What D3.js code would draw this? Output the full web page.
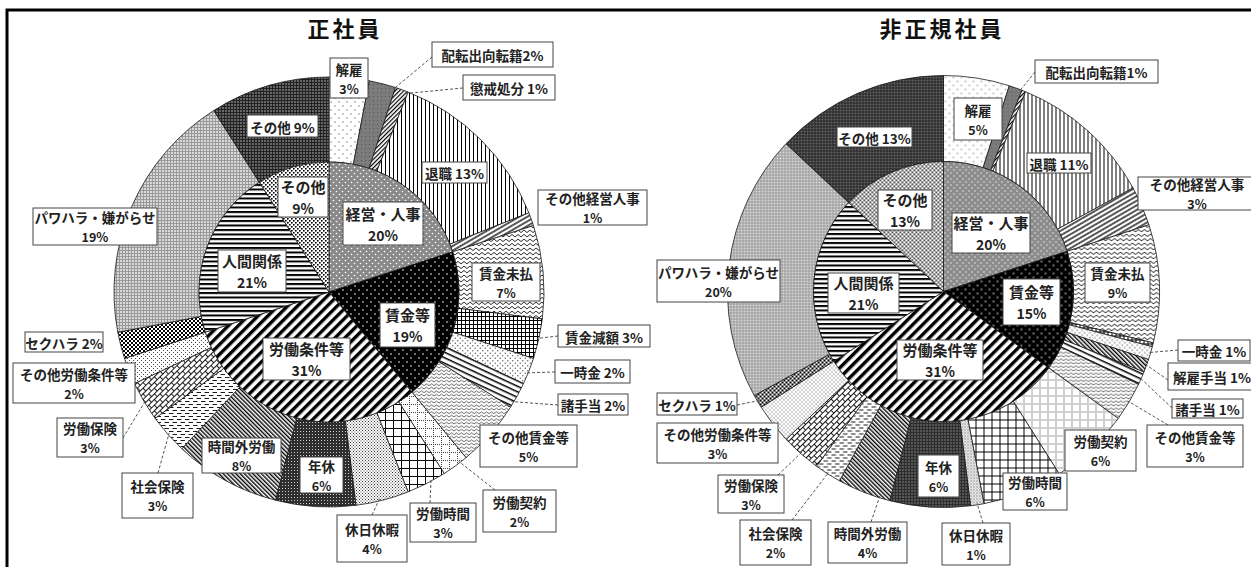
<!DOCTYPE html>
<html>
<head>
<meta charset="utf-8">
<script src="https://cdn.jsdelivr.net/npm/d3@7"></script>
<style>
  body { margin: 0; background: #fff; }
  text { font-family: "Noto Sans CJK JP", "Noto Sans", sans-serif; }
</style>
</head>
<body>
<svg id="chart" width="1251" height="567"></svg>
<script>
// ---- data -------------------------------------------------------------
const categories = ["経営・人事", "賃金等", "労働条件等", "人間関係", "その他"];

// 正社員
const regularTitle = "正社員";
const regularMain = [20, 19, 31, 21, 9];
const regularSubNames = ["解雇", "配転出向転籍", "懲戒処分", "退職", "その他経営人事",
  "賃金未払", "賃金減額", "一時金", "諸手当", "その他賃金等",
  "労働契約", "労働時間", "休日休暇", "年休", "時間外労働", "社会保険", "労働保険", "その他労働条件等",
  "セクハラ", "パワハラ・嫌がらせ", "その他"];
const regularSubGroups = [0, 0, 0, 0, 0, 1, 1, 1, 1, 1, 2, 2, 2, 2, 2, 2, 2, 2, 3, 3, 4];
const regularSubValues = [3, 2, 1, 13, 1, 7, 3, 2, 2, 5, 2, 3, 4, 6, 8, 3, 3, 2, 2, 19, 9];

// 非正規社員
const nonRegularTitle = "非正規社員";
const nonRegularMain = [20, 15, 31, 21, 13];
const nonRegularSubNames = ["解雇", "配転出向転籍", "懲戒処分", "退職", "その他経営人事",
  "賃金未払", "賃金減額", "一時金", "解雇手当", "諸手当", "その他賃金等",
  "労働契約", "労働時間", "休日休暇", "年休", "時間外労働", "社会保険", "労働保険", "その他労働条件等",
  "セクハラ", "パワハラ・嫌がらせ", "その他"];
const nonRegularSubGroups = [0, 0, 0, 0, 0, 1, 1, 1, 1, 1, 1, 2, 2, 2, 2, 2, 2, 2, 2, 3, 3, 4];
const nonRegularSubValues = [5, 1, 0.3, 11, 3, 9, 0.3, 1, 1, 1, 3, 6, 6, 1, 6, 4, 2, 3, 3, 1, 20, 13];

// ---- label layout (box x, y, w, h, number of lines, optional leader) ----
const regularLabels = [
  { ring: "out", name: "その他", box: [247, 115, 71, 22], lines: 1 },
  { ring: "in", name: "その他", box: [278, 177, 50, 40], lines: 2 },
  { ring: "out", name: "パワハラ・嫌がらせ", box: [33, 208, 124, 37], lines: 2 },
  { ring: "in", name: "人間関係", box: [218, 250, 68, 42], lines: 2 },
  { ring: "out", name: "解雇", box: [330, 58, 38, 40], lines: 2 },
  { ring: "out", name: "配転出向転籍", box: [432, 42, 121, 25], lines: 1, sep: "", leader: [432, 57, 0.95] },
  { ring: "out", name: "懲戒処分", box: [463, 75, 92, 25], lines: 1, leader: [463, 88, 0.9] },
  { ring: "out", name: "退職", box: [422, 162, 65, 21], lines: 1 },
  { ring: "out", name: "その他経営人事", box: [538, 190, 109, 35], lines: 2 },
  { ring: "in", name: "経営・人事", box: [343, 202, 80, 43], lines: 2 },
  { ring: "out", name: "賃金未払", box: [472, 263, 68, 38], lines: 2 },
  { ring: "in", name: "賃金等", box: [380, 303, 55, 44], lines: 2 },
  { ring: "out", name: "賃金減額", box: [558, 325, 92, 22], lines: 1, leader: [558, 336, 0.5] },
  { ring: "out", name: "一時金", box: [555, 360, 75, 23], lines: 1, leader: [555, 372, 0.6] },
  { ring: "out", name: "諸手当", box: [558, 394, 70, 21], lines: 1, leader: [558, 405, 0.8] },
  { ring: "out", name: "その他賃金等", box: [480, 425, 97, 42], lines: 2 },
  { ring: "out", name: "労働契約", box: [483, 490, 73, 42], lines: 2, leader: [495, 490, 0.3] },
  { ring: "out", name: "労働時間", box: [410, 503, 66, 39], lines: 2, leader: [430, 503, 0.35] },
  { ring: "out", name: "休日休暇", box: [337, 515, 70, 47], lines: 2, leader: [372, 515, 0.55] },
  { ring: "out", name: "年休", box: [300, 457, 43, 36], lines: 2 },
  { ring: "out", name: "時間外労働", box: [202, 438, 79, 35], lines: 2 },
  { ring: "in", name: "労働条件等", box: [263, 338, 87, 42], lines: 2 },
  { ring: "out", name: "社会保険", box: [122, 473, 71, 45], lines: 2, leader: [158, 473, 0.5] },
  { ring: "out", name: "労働保険", box: [57, 418, 66, 39], lines: 2, leader: [123, 438, 0.5] },
  { ring: "out", name: "その他労働条件等", box: [13, 363, 122, 40], lines: 2 },
  { ring: "out", name: "セクハラ", box: [25, 332, 78, 20], lines: 1 }
];

const nonRegularLabels = [
  { ring: "out", name: "その他", box: [837, 127, 75, 20], lines: 1 },
  { ring: "in", name: "その他", box: [878, 190, 54, 40], lines: 2 },
  { ring: "out", name: "パワハラ・嫌がらせ", box: [657, 260, 123, 42], lines: 2 },
  { ring: "in", name: "人間関係", box: [828, 273, 71, 40], lines: 2 },
  { ring: "out", name: "解雇", box: [954, 98, 48, 42], lines: 2 },
  { ring: "out", name: "配転出向転籍", box: [1035, 60, 123, 23], lines: 1, sep: "", leader: [1035, 72, 0.85] },
  { ring: "out", name: "退職", box: [1027, 153, 64, 20], lines: 1 },
  { ring: "out", name: "その他経営人事", box: [1138, 177, 118, 33], lines: 2 },
  { ring: "in", name: "経営・人事", box: [952, 213, 78, 40], lines: 2 },
  { ring: "out", name: "賃金未払", box: [1085, 263, 65, 39], lines: 2 },
  { ring: "in", name: "賃金等", box: [1003, 279, 57, 46], lines: 2 },
  { ring: "out", name: "一時金", box: [1178, 340, 72, 21], lines: 1, leader: [1178, 350, 0.5] },
  { ring: "out", name: "解雇手当", box: [1168, 363, 88, 27], lines: 1, leader: [1168, 380, 0.4] },
  { ring: "out", name: "諸手当", box: [1172, 399, 71, 19], lines: 1, leader: [1172, 408, 0.5] },
  { ring: "out", name: "その他賃金等", box: [1147, 425, 96, 42], lines: 2, leader: [1168, 425, 0.5] },
  { ring: "out", name: "労働契約", box: [1065, 430, 71, 41], lines: 2 },
  { ring: "out", name: "労働時間", box: [1003, 473, 64, 37], lines: 2 },
  { ring: "out", name: "休日休暇", box: [942, 523, 68, 42], lines: 2, leader: [983, 523, 0.5] },
  { ring: "out", name: "年休", box: [918, 455, 41, 42], lines: 2 },
  { ring: "out", name: "時間外労働", box: [828, 522, 79, 41], lines: 2, leader: [871, 522, 0.2] },
  { ring: "out", name: "社会保険", box: [740, 520, 71, 45], lines: 2, leader: [792, 520, 0.5] },
  { ring: "out", name: "労働保険", box: [718, 475, 66, 38], lines: 2, leader: [778, 475, 0.5] },
  { ring: "out", name: "その他労働条件等", box: [657, 423, 121, 40], lines: 2 },
  { ring: "out", name: "セクハラ", box: [657, 393, 80, 22], lines: 1, leader: [737, 405, 0.5] },
  { ring: "in", name: "労働条件等", box: [897, 340, 86, 40], lines: 2 }
];

// ---- drawing ------------------------------------------------------------
const svg = d3.select("#chart");
const defs = svg.append("defs");

function makePattern(id, w, h, bg, items, transform) {
  const p = defs.append("pattern").attr("id", id)
    .attr("patternUnits", "userSpaceOnUse").attr("width", w).attr("height", h);
  if (transform) p.attr("patternTransform", transform);
  p.append("rect").attr("width", w).attr("height", h).attr("fill", bg);
  items.forEach(([tag, attrs]) => {
    const el = p.append(tag);
    Object.entries(attrs).forEach(([k, v]) => el.attr(k, v));
  });
  return "url(#" + id + ")";
}

const innerFill = {
  "経営・人事": makePattern("pi0", 6, 6, "#8a8a8a", [["circle", { cx: 1.5, cy: 1.5, r: 0.8, fill: "#fff" }], ["circle", { cx: 4.5, cy: 4.5, r: 0.8, fill: "#fff" }]]),
  "賃金等": makePattern("pi1", 8, 8, "#000", [["circle", { cx: 2, cy: 2, r: 0.8, fill: "#fff" }], ["circle", { cx: 6, cy: 6, r: 0.8, fill: "#fff" }]]),
  "労働条件等": makePattern("pi2", 7, 7, "#fff", [["rect", { x: 0, y: 0, width: 3.4, height: 7, fill: "#000" }]], "rotate(45)"),
  "人間関係": makePattern("pi3", 4.5, 4.5, "#fff", [["rect", { x: 0, y: 0, width: 4.5, height: 2, fill: "#000" }]]),
  "その他": makePattern("pi4", 4, 4, "#fff", [["rect", { x: 0, y: 0, width: 1.6, height: 1.6, fill: "#000" }], ["rect", { x: 2, y: 2, width: 1.6, height: 1.6, fill: "#000" }]])
};

const outerFill = {
  "解雇": makePattern("po0", 8, 8, "#fff", [["circle", { cx: 2, cy: 2, r: 0.8, fill: "#888" }], ["circle", { cx: 6, cy: 6, r: 0.8, fill: "#888" }]]),
  "配転出向転籍": makePattern("po1", 4, 4, "#7c7c7c", [["rect", { x: 0, y: 0, width: 1, height: 1, fill: "#555" }]]),
  "懲戒処分": makePattern("po2", 3, 3, "#fff", [["rect", { x: 0, y: 0, width: 1.2, height: 3, fill: "#000" }]], "rotate(45)"),
  "退職": makePattern("po3", 4, 4, "#fff", [["rect", { x: 0, y: 0, width: 1, height: 4, fill: "#000" }]]),
  "その他経営人事": makePattern("po4", 4, 4, "#fff", [["path", { d: "M0,3 L1,1 L2,3 L3,1 L4,3", stroke: "#000", "stroke-width": 0.8, fill: "none" }]], "rotate(-30)"),
  "賃金未払": makePattern("po5", 6, 4.5, "#fff", [["path", { d: "M0,3.5 L3,1 L6,3.5", stroke: "#000", "stroke-width": 0.9, fill: "none" }]]),
  "賃金減額": makePattern("po6", 4, 4, "#fff", [["rect", { x: 0, y: 0, width: 4, height: 1, fill: "#000" }], ["rect", { x: 0, y: 0, width: 1, height: 4, fill: "#000" }]]),
  "一時金": makePattern("po7", 5, 5, "#fff", [["circle", { cx: 1.25, cy: 1.25, r: 0.7, fill: "#555" }], ["circle", { cx: 3.75, cy: 3.75, r: 0.7, fill: "#555" }]]),
  "解雇手当": makePattern("po8", 3, 3, "#fff", [["rect", { x: 0, y: 0, width: 1.4, height: 3, fill: "#000" }]], "rotate(-45)"),
  "諸手当": makePattern("po9", 5, 5, "#fff", [["rect", { x: 0, y: 0, width: 5, height: 1.5, fill: "#000" }]], "rotate(25)"),
  "その他賃金等": makePattern("po10", 5, 3.5, "#fff", [["path", { d: "M0,2.6 L2.5,0.8 L5,2.6", stroke: "#333", "stroke-width": 0.8, fill: "none" }]]),
  "労働契約": makePattern("po11", 8, 8, "#fff", [["path", { d: "M0.5,0 V8 M0,0.5 H8", stroke: "#444", "stroke-width": 1, "stroke-dasharray": "1,1", fill: "none" }]]),
  "労働時間": makePattern("po12", 8, 8, "#fff", [["rect", { x: 0, y: 0, width: 8, height: 1, fill: "#000" }], ["rect", { x: 0, y: 0, width: 1, height: 8, fill: "#000" }]]),
  "休日休暇": makePattern("po13", 3, 3, "#fff", [["rect", { x: 0, y: 0, width: 1, height: 1, fill: "#333" }], ["rect", { x: 1.5, y: 1.5, width: 1, height: 1, fill: "#333" }]]),
  "年休": makePattern("po14", 3, 3, "#2e2e2e", [["rect", { x: 1, y: 1, width: 1, height: 1, fill: "#ccc" }]]),
  "時間外労働": makePattern("po15", 3, 3, "#fff", [["rect", { x: 0, y: 0, width: 1.4, height: 3, fill: "#000" }]], "rotate(-45)"),
  "社会保険": makePattern("po16", 8, 6, "#fff", [["rect", { x: 0, y: 1, width: 4.5, height: 0.9, fill: "#000" }], ["rect", { x: 3.5, y: 4, width: 4.5, height: 0.9, fill: "#000" }]]),
  "労働保険": makePattern("po17", 8, 8, "#fff", [["path", { d: "M0,0.5 H8 M0,4.5 H8 M0.5,0.5 V4.5 M4.5,4.5 V8.5", stroke: "#000", "stroke-width": 0.9, fill: "none" }]], "rotate(-45)"),
  "その他労働条件等": makePattern("po18", 4, 4, "#fff", [["rect", { x: 0, y: 0, width: 1, height: 1, fill: "#444" }], ["rect", { x: 2, y: 2, width: 1, height: 1, fill: "#444" }]]),
  "セクハラ": makePattern("po19", 4, 4, "#fff", [["rect", { x: 0, y: 0, width: 2, height: 2, fill: "#000" }], ["rect", { x: 2, y: 2, width: 2, height: 2, fill: "#000" }]]),
  "パワハラ・嫌がらせ": makePattern("po20", 3, 3, "#d8d8d8", [["rect", { x: 0, y: 0, width: 3, height: 1, fill: "#999" }], ["rect", { x: 0, y: 0, width: 1, height: 3, fill: "#999" }]]),
  "その他": makePattern("po21", 3, 3, "#666", [["rect", { x: 0, y: 0, width: 3, height: 1, fill: "#222" }], ["rect", { x: 0, y: 0, width: 1, height: 3, fill: "#222" }]])
};

// outer frame
svg.append("path").attr("d", "M7,567 V10 H1251")
  .attr("fill", "none").attr("stroke", "#000").attr("stroke-width", 3);

function buildRings(main, subNames, subGroups, subValues) {
  const angle = d3.scaleLinear().domain([0, d3.sum(main)]).range([0, 2 * Math.PI]);
  const inner = [];
  let acc = 0;
  main.forEach((v, i) => {
    inner.push({ name: categories[i], value: v, startAngle: angle(acc), endAngle: angle(acc + v) });
    acc += v;
  });
  const outer = [];
  categories.forEach((c, g) => {
    const idx = subNames.map((n, i) => i).filter(i => subGroups[i] === g);
    const tot = d3.sum(idx, i => subValues[i]);
    const within = d3.scaleLinear().domain([0, tot]).range([inner[g].startAngle, inner[g].endAngle]);
    let a = 0;
    idx.forEach(i => {
      outer.push({ name: subNames[i], value: subValues[i], startAngle: within(a), endAngle: within(a + subValues[i]) });
      a += subValues[i];
    });
  });
  return { inner, outer };
}

function drawChart(cfg) {
  const { cx, cy, r0, r1, title, main, subNames, subGroups, subValues, labels, titleX } = cfg;
  const rings = buildRings(main, subNames, subGroups, subValues);
  const g = svg.append("g").attr("transform", `translate(${cx},${cy})`);

  const arcIn = d3.arc().innerRadius(0).outerRadius(r0);
  const arcOut = d3.arc().innerRadius(r0).outerRadius(r1);

  g.selectAll("path.out").data(rings.outer).join("path")
    .attr("class", "out").attr("d", arcOut)
    .attr("fill", d => outerFill[d.name])
    .attr("stroke", "#1a1a1a").attr("stroke-width", 0.8);

  g.selectAll("path.in").data(rings.inner).join("path")
    .attr("class", "in").attr("d", arcIn)
    .attr("fill", d => innerFill[d.name])
    .attr("stroke", "#1a1a1a").attr("stroke-width", 0.8);

  svg.append("text").attr("x", titleX).attr("y", 37)
    .attr("text-anchor", "middle").attr("font-size", 22).attr("font-weight", 700)
    .attr("letter-spacing", 3).attr("fill", "#111").text(title);

  const lookup = { in: rings.inner, out: rings.outer };

  // leader lines
  labels.filter(l => l.leader).forEach(l => {
    const d = lookup[l.ring].find(s => s.name === l.name);
    const [sx, sy, t] = l.leader;
    const a = d.startAngle + (d.endAngle - d.startAngle) * t;
    const rr = r1 - 2;
    const ex = cx + rr * Math.sin(a), ey = cy - rr * Math.cos(a);
    svg.append("line").attr("x1", sx).attr("y1", sy).attr("x2", ex).attr("y2", ey)
      .attr("stroke", "#555").attr("stroke-width", 1).attr("stroke-dasharray", "3,2");
  });

  // label boxes
  labels.forEach(l => {
    const d = lookup[l.ring].find(s => s.name === l.name);
    const [bx, by, bw, bh] = l.box;
    const pct = Math.round(d.value) + "%";
    const lg = svg.append("g");
    lg.append("rect").attr("x", bx).attr("y", by).attr("width", bw).attr("height", bh)
      .attr("fill", "#fff").attr("stroke", "#444").attr("stroke-width", 1);
    const mx = bx + bw / 2, my = by + bh / 2;
    const isInner = l.ring === "in";
    const fs = isInner ? 15 : 13.5;
    if (l.lines === 2) {
      lg.append("text").attr("x", mx).attr("y", my - (isInner ? 10.5 : 9.5))
        .attr("text-anchor", "middle").attr("dominant-baseline", "central")
        .attr("font-size", fs).attr("font-weight", 700).attr("fill", "#222").text(d.name);
      lg.append("text").attr("x", mx).attr("y", my + (isInner ? 11 : 10))
        .attr("text-anchor", "middle").attr("dominant-baseline", "central")
        .attr("font-size", fs - 1).attr("font-weight", 700).attr("fill", "#222").text(pct);
    } else {
      const sep = l.sep === undefined ? " " : l.sep;
      lg.append("text").attr("x", mx).attr("y", my + 0.5)
        .attr("text-anchor", "middle").attr("dominant-baseline", "central")
        .attr("font-size", fs).attr("font-weight", 700).attr("fill", "#222").text(d.name + sep + pct);
    }
  });
}

drawChart({
  cx: 329, cy: 292, r0: 130, r1: 215, titleX: 345,
  title: regularTitle, main: regularMain,
  subNames: regularSubNames, subGroups: regularSubGroups, subValues: regularSubValues,
  labels: regularLabels
});

drawChart({
  cx: 943.5, cy: 291.5, r0: 130, r1: 216, titleX: 942,
  title: nonRegularTitle, main: nonRegularMain,
  subNames: nonRegularSubNames, subGroups: nonRegularSubGroups, subValues: nonRegularSubValues,
  labels: nonRegularLabels
});
</script>
</body>
</html>
